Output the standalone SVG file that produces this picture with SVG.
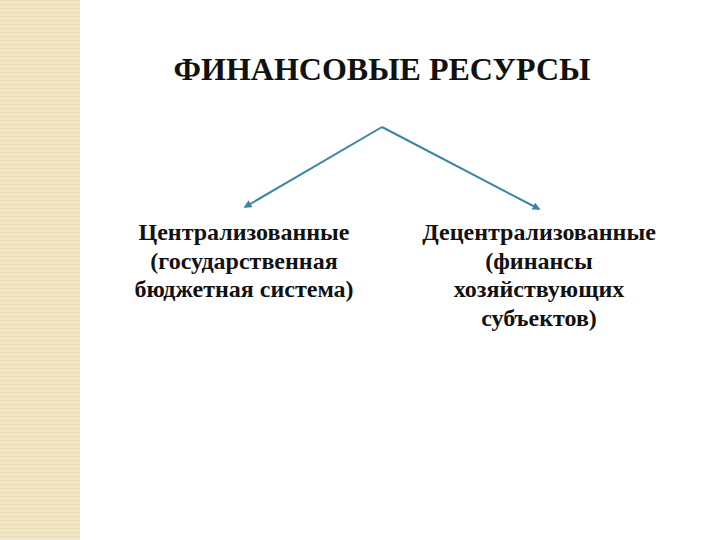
<svg xmlns="http://www.w3.org/2000/svg" width="720" height="540" viewBox="0 0 720 540">
<defs>
<pattern id="stripes" width="8" height="4" patternUnits="userSpaceOnUse">
<rect width="8" height="4" fill="#f5ead0"/>
<rect y="0" width="8" height="1.5" fill="#e9dbb4"/>
<rect y="2.5" width="8" height="0.8" fill="#efe2c2"/>
</pattern>
<marker id="ah" viewBox="0 0 10 10" refX="8" refY="5" markerWidth="4" markerHeight="4" orient="auto" markerUnits="strokeWidth">
<path d="M0,0 L10,5 L0,10 z" fill="#3b86a6"/>
</marker>
<style>
.t{font-family:"Liberation Serif","Times New Roman",serif;font-weight:bold;fill:#111;text-anchor:middle}
.title{font-size:32px}
.lbl{font-size:24px}
.conn{stroke:#3b86a6;stroke-width:2;fill:none}
</style>
</defs>
<rect width="720" height="540" fill="#ffffff"/>
<rect x="0" y="0" width="80" height="540" fill="url(#stripes)"/>
<g id="title">
<text class="t title" x="382" y="80">ФИНАНСОВЫЕ РЕСУРСЫ</text>
</g>
<g id="connectors">
<line class="conn" x1="382" y1="127" x2="245" y2="207" marker-end="url(#ah)"/>
<line class="conn" x1="382" y1="127" x2="539" y2="209" marker-end="url(#ah)"/>
</g>
<g id="centralized">
<text class="t lbl" x="244" y="240">Централизованные</text>
<text class="t lbl" x="244" y="268.7">(государственная</text>
<text class="t lbl" x="244" y="297.3">бюджетная система)</text>
</g>
<g id="decentralized">
<text class="t lbl" x="539" y="240">Децентрализованные</text>
<text class="t lbl" x="539" y="268.7">(финансы</text>
<text class="t lbl" x="539" y="297.3">хозяйствующих</text>
<text class="t lbl" x="539" y="326">субъектов)</text>
</g>
</svg>
